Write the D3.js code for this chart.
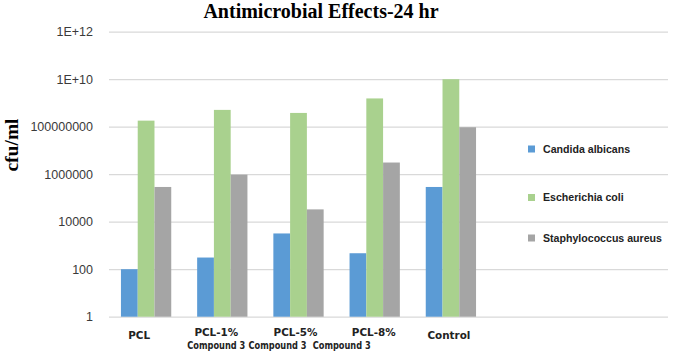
<!DOCTYPE html>
<html>
<head>
<meta charset="utf-8">
<script src="https://cdn.jsdelivr.net/npm/d3@7"></script>
<style>
  body { margin: 0; background: #fff; }
  svg { display: block; }
</style>
</head>
<body>
<script>
// categories (each label may span two lines)
const categories = ["PCL", "PCL-1%", "PCL-5%", "PCL-8%", "Control"];
const categoryLines = [["PCL"], ["PCL-1%", "Compound 3"], ["PCL-5%", "Compound 3"], ["PCL-8%", "Compound 3"], ["Control"]];

// series, cfu/ml
const seriesNames = ["Candida albicans", "Escherichia coli", "Staphylococcus aureus"];
const candida = [100, 310, 3200, 470, 290000];
const ecoli = [1.8e8, 5.1e8, 3.8e8, 1.55e9, 1e10];
const staph = [290000, 960000, 33000, 3.1e6, 9.5e7];

const tickValues = [1, 100, 1e4, 1e6, 1e8, 1e10, 1e12];
const tickLabels = ["1", "100", "10000", "1000000", "100000000", "1E+10", "1E+12"];

const colors = ["#5b9bd5", "#a9d18e", "#a5a5a5"];
// small hand nudges so the category text sits like the original
const labelNudge = [[-7], [-6, -6], [-3, -21], [-1, -33], [-2]];

const width = 673, height = 352;
const svg = d3.select("body").append("svg")
    .attr("width", width)
    .attr("height", height);

const x = d3.scaleBand()
    .domain(categories)
    .range([108, 489])
    .paddingInner(0.34)
    .paddingOuter(0.17);

const xs = d3.scaleBand()
    .domain(seriesNames)
    .range([0, x.bandwidth()]);

const y = d3.scaleLog()
    .domain([1, 1e12])
    .range([316.7, 31.7]);

// gridlines + tick labels
const gridLeft = 109, gridRight = 668;
const yAxis = d3.axisLeft(y)
    .tickValues(tickValues)
    .tickFormat((d, i) => tickLabels[i])
    .tickSize(-(gridRight - gridLeft))
    .tickPadding(16);

const ax = svg.append("g")
    .attr("transform", `translate(${gridLeft},0)`)
    .call(yAxis);
ax.select(".domain").remove();
ax.selectAll(".tick line").attr("stroke", "#d9d9d9").attr("stroke-width", 1.3);
ax.selectAll(".tick text")
    .attr("fill", "#3a3a3a")
    .style("font-family", "'Liberation Sans', Arial, sans-serif")
    .style("font-size", "12.5px");

// bars
const table = categories.map((c, i) => ({
    cat: c,
    vals: [candida[i], ecoli[i], staph[i]]
}));

const groups = svg.append("g").selectAll("g")
    .data(table)
    .join("g")
    .attr("transform", d => `translate(${x(d.cat)},0)`);

groups.selectAll("rect")
    .data(d => d.vals.map((v, j) => ({ name: seriesNames[j], v: v, j: j })))
    .join("rect")
    .attr("x", d => xs(d.name))
    .attr("width", xs.bandwidth())
    .attr("y", d => y(d.v))
    .attr("height", d => y(1) - y(d.v))
    .attr("fill", d => colors[d.j]);

// category labels
const catG = svg.append("g")
    .style("font-family", "'DejaVu Sans', Verdana, sans-serif")
    .style("font-weight", "bold")
    .attr("fill", "#222");

categoryLines.forEach((lines, i) => {
    const cx = x(categories[i]) + x.bandwidth() / 2;
    lines.forEach((t, k) => {
        const yy = lines.length === 1 ? 338.5 : (k === 0 ? 335.5 : 348.5);
        const txt = catG.append("text")
            .attr("x", cx + labelNudge[i][k])
            .attr("y", yy)
            .attr("text-anchor", "middle")
            .style("font-size", k === 1 ? "9.6px" : "10.4px")
            .text(t);
        // second line is squeezed in the original
        if (k === 1) txt.attr("textLength", 58).attr("lengthAdjust", "spacingAndGlyphs");
    });
});

// legend
const legendY = [149, 197.5, 238];
const leg = svg.append("g");
seriesNames.forEach((n, i) => {
    leg.append("rect")
        .attr("x", 528)
        .attr("y", legendY[i] - 3.5)
        .attr("width", 7)
        .attr("height", 7)
        .attr("fill", colors[i]);
    leg.append("text")
        .attr("x", 543)
        .attr("y", legendY[i] + 3.8)
        .style("font-family", "'Liberation Sans', Arial, sans-serif")
        .style("font-weight", "bold")
        .style("font-size", "10.6px")
        .attr("fill", "#222")
        .text(n);
});

// title
svg.append("text")
    .attr("x", 321)
    .attr("y", 17.5)
    .attr("text-anchor", "middle")
    .style("font-family", "'Liberation Serif', 'Times New Roman', serif")
    .style("font-weight", "bold")
    .style("font-size", "20px")
    .attr("fill", "#000")
    .text("Antimicrobial Effects-24 hr");

// y axis title
svg.append("text")
    .attr("transform", "translate(18,145) rotate(-90)")
    .attr("text-anchor", "middle")
    .style("font-family", "'Liberation Serif', 'Times New Roman', serif")
    .style("font-weight", "bold")
    .style("font-size", "19.5px")
    .attr("fill", "#000")
    .text("cfu/ml");
</script>
</body>
</html>
